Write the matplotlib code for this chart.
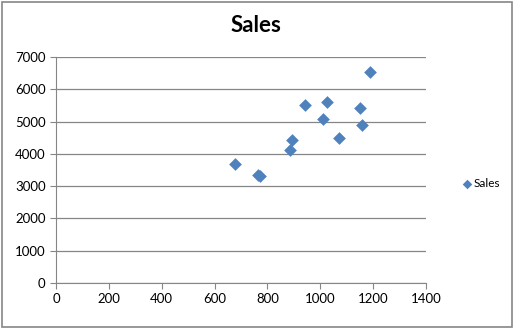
import matplotlib

matplotlib.use("Agg")
import matplotlib.pyplot as plt
from matplotlib.patches import Rectangle

# values
price = [676, 766, 770, 886, 894, 941, 1011, 1026, 1070, 1149, 1159, 1188]
sales = [3680, 3360, 3300, 4110, 4420, 5500, 5080, 5610, 4490, 5420, 4880, 6520]
x_ticks = [0, 200, 400, 600, 800, 1000, 1200, 1400]
y_ticks = [0, 1000, 2000, 3000, 4000, 5000, 6000, 7000]

plt.rcParams["font.family"] = ["Lato", "DejaVu Sans"]

fig = plt.figure(figsize=(5.24, 3.35), dpi=100)
fig.patches.append(Rectangle((2 / 524, 1 - 327 / 335), 510 / 524, 325 / 335,
                             transform=fig.transFigure, fill=False,
                             edgecolor="#868686", linewidth=1.2))

ax = fig.add_axes([56 / 524, 1 - 283 / 335, 370 / 524, 226 / 335])
ax.scatter(price, sales, marker="D", s=42, color="#4F81BD", label="Sales",
           zorder=3, linewidths=0)

ax.set_xlim(0, 1400)
ax.set_ylim(0, 7000)
ax.set_xticks(x_ticks)
ax.set_yticks(y_ticks)
ax.tick_params(labelsize=9.5, color="#868686", length=4, direction="out",
               labelcolor="black")
ax.grid(axis="y", color="#868686", linewidth=0.9)
ax.set_axisbelow(True)
for side in ("top", "right"):
    ax.spines[side].set_visible(False)
for side in ("left", "bottom"):
    ax.spines[side].set_color("#868686")

fig.text(256 / 524, 1 - 26 / 335, "Sales", ha="center", va="center",
         fontsize=16, fontweight="bold")

ax.legend(loc="center left", bbox_to_anchor=(1.065, 0.44), frameon=False,
          fontsize=8.5, handletextpad=0.1, handlelength=1.0, markerscale=0.75)

fig.savefig("out.png", dpi=100)
